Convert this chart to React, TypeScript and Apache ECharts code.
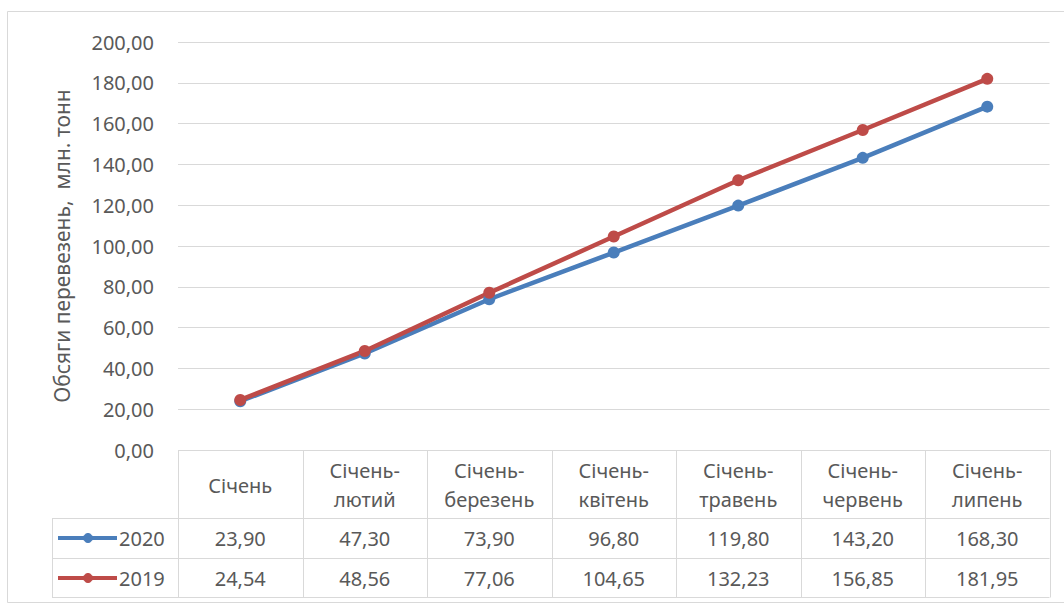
import React, { useEffect, useRef } from "react";
import * as echarts from "echarts";

// Periods (cumulative from January)
const categories = [
  "Січень",
  "Січень-\nлютий",
  "Січень-\nберезень",
  "Січень-\nквітень",
  "Січень-\nтравень",
  "Січень-\nчервень",
  "Січень-\nлипень",
];

// Freight volumes, mln tonnes
const values2020 = [23.9, 47.3, 73.9, 96.8, 119.8, 143.2, 168.3];
const values2019 = [24.54, 48.56, 77.06, 104.65, 132.23, 156.85, 181.95];

const seriesNames = ["2020", "2019"];
const seriesColors = ["#4a7ebb", "#be4b48"];

const yTitle = "Обсяги перевезень,  млн. тонн";

const W = 1064;
const H = 605;

// plot + table geometry
const PLOT_L = 178;
const PLOT_R = 1049.5;
const PLOT_T = 42;
const PLOT_B = 450;
const LEGEND_L = 52;
const ROW1 = 518;
const ROW2 = 558;
const ROW3 = 597;

const FONT = "'Noto Sans', sans-serif";
const TEXT_COLOR = "#595959";
const LINE_COLOR = "#d9d9d9";

const fmt = (v: number) => v.toFixed(2).replace(".", ",");

export default function App() {
  const ref = useRef<HTMLDivElement>(null);

  useEffect(() => {
    if (!ref.current) return;
    const chart = echarts.init(ref.current, undefined, { renderer: "svg" });

    const colW = (PLOT_R - PLOT_L) / categories.length;
    const graphics: any[] = [];

    // outer chart frame
    graphics.push({
      type: "rect",
      shape: { x: 7.5, y: 11.5, width: W, height: 591 },
      style: { fill: "none", stroke: LINE_COLOR, lineWidth: 1 },
      silent: true,
    });

    // y-axis title
    graphics.push({
      type: "text",
      x: 62,
      y: (PLOT_T + PLOT_B) / 2,
      rotation: Math.PI / 2,
      style: {
        text: yTitle,
        font: `21px ${FONT}`,
        fill: TEXT_COLOR,
        align: "center",
        verticalAlign: "middle",
      },
    });

    // data table: horizontal rules
    [ROW1, ROW2, ROW3].forEach((y) => {
      graphics.push({
        type: "line",
        shape: { x1: LEGEND_L, y1: y + 0.5, x2: PLOT_R, y2: y + 0.5 },
        style: { stroke: LINE_COLOR, lineWidth: 1 },
      });
    });
    // vertical rules
    for (let k = 0; k <= categories.length; k++) {
      const x = Math.round(PLOT_L + k * colW) + 0.5;
      graphics.push({
        type: "line",
        shape: { x1: x, y1: PLOT_B, x2: x, y2: ROW3 + 0.5 },
        style: { stroke: LINE_COLOR, lineWidth: 1 },
      });
    }
    graphics.push({
      type: "line",
      shape: { x1: LEGEND_L + 0.5, y1: ROW1, x2: LEGEND_L + 0.5, y2: ROW3 + 0.5 },
      style: { stroke: LINE_COLOR, lineWidth: 1 },
    });

    // header cells (category names)
    categories.forEach((c, k) => {
      graphics.push({
        type: "text",
        x: PLOT_L + (k + 0.5) * colW,
        y: (PLOT_B + ROW1) / 2 + 1,
        style: {
          text: c,
          font: `20px ${FONT}`,
          fill: TEXT_COLOR,
          align: "center",
          verticalAlign: "middle",
          lineHeight: 29,
        },
      });
    });

    // value rows with legend keys
    const rows = [values2020, values2019];
    const rowTops = [ROW1, ROW2];
    rows.forEach((vals, r) => {
      const cy = rowTops[r] + 20;
      graphics.push({
        type: "line",
        shape: { x1: 58, y1: cy, x2: 117, y2: cy },
        style: { stroke: seriesColors[r], lineWidth: 4 },
      });
      graphics.push({
        type: "circle",
        shape: { cx: 88, cy, r: 4.5 },
        style: { fill: seriesColors[r], stroke: seriesColors[r] },
      });
      graphics.push({
        type: "text",
        x: 119,
        y: cy,
        style: {
          text: seriesNames[r],
          font: `20px ${FONT}`,
          fill: TEXT_COLOR,
          align: "left",
          verticalAlign: "middle",
        },
      });
      vals.forEach((v, k) => {
        graphics.push({
          type: "text",
          x: PLOT_L + (k + 0.5) * colW,
          y: cy,
          style: {
            text: fmt(v),
            font: `20px ${FONT}`,
            fill: TEXT_COLOR,
            align: "center",
            verticalAlign: "middle",
          },
        });
      });
    });

    const lineSeries = (name: string, data: number[], color: string) => ({
      name,
      type: "line",
      data,
      symbol: "circle",
      symbolSize: 12,
      lineStyle: { color, width: 4.5 },
      itemStyle: { color },
      z: 3,
    });

    chart.setOption({
      animation: false,
      backgroundColor: "#ffffff",
      grid: {
        left: PLOT_L,
        right: W - PLOT_R,
        top: PLOT_T,
        bottom: H - PLOT_B,
        containLabel: false,
      },
      xAxis: {
        type: "category",
        data: categories,
        boundaryGap: true,
        axisLine: { show: false },
        axisTick: { show: false },
        axisLabel: { show: false },
      },
      yAxis: {
        type: "value",
        min: 0,
        max: 200,
        interval: 20,
        axisLine: { show: false },
        axisTick: { show: false },
        axisLabel: {
          formatter: (v: number) => fmt(v),
          color: TEXT_COLOR,
          fontFamily: FONT,
          fontSize: 20,
          margin: 24,
        },
        splitLine: { lineStyle: { color: LINE_COLOR, width: 1 } },
      },
      series: [
        lineSeries(seriesNames[0], values2020, seriesColors[0]),
        lineSeries(seriesNames[1], values2019, seriesColors[1]),
      ],
      graphic: graphics,
    });

    return () => chart.dispose();
  }, []);

  return (
    <div
      ref={ref}
      style={{ position: "fixed", left: 0, top: 0, width: W, height: H }}
    />
  );
}
